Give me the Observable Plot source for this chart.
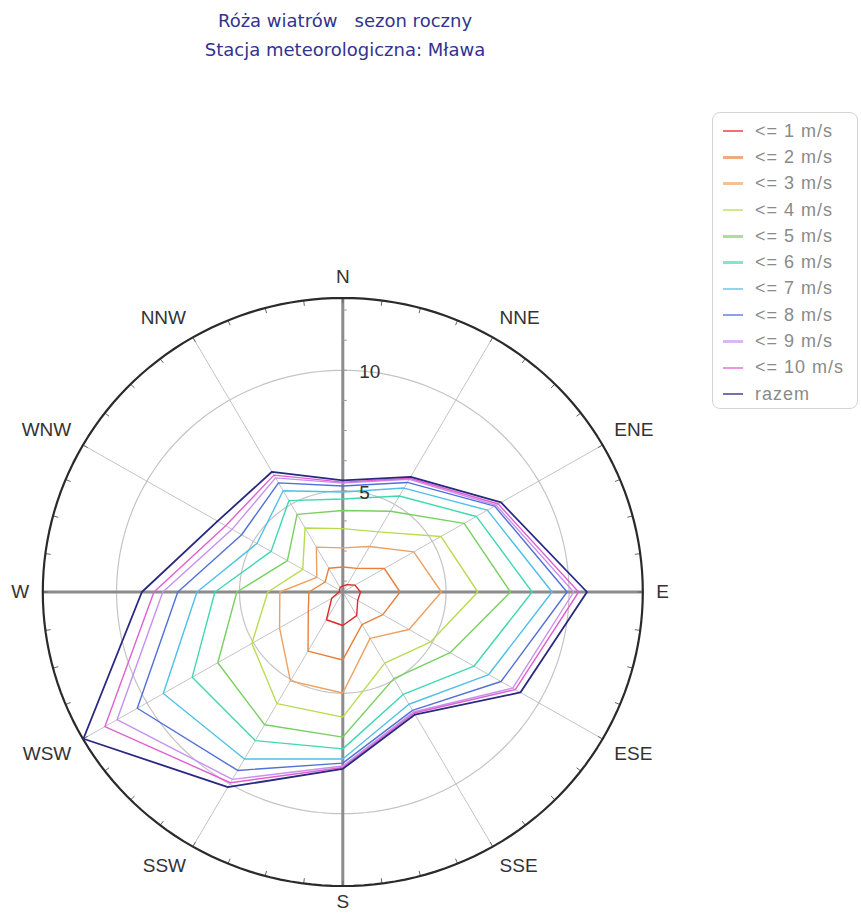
<!DOCTYPE html>
<html><head><meta charset="utf-8">
<script src="https://cdn.jsdelivr.net/npm/d3@7"></script>
<script src="https://cdn.jsdelivr.net/npm/@observablehq/plot@0.6"></script>
<style>
body{margin:0;background:#fff;width:861px;height:913px;position:relative;overflow:hidden;font-family:"Liberation Sans",Arial,sans-serif}
#title{position:absolute;left:0;top:7px;width:690px;text-align:center;font-family:"DejaVu Sans",sans-serif;font-size:18px;color:#33338f;line-height:28.5px;white-space:pre}
#chart{position:absolute;left:0;top:0}
#legend{position:absolute;left:712px;top:112px;width:146px;height:297px;border:1px solid #d4d4d4;border-radius:8px;box-sizing:border-box;padding-top:5px}
.item{height:26.3px;display:flex;align-items:center;font-size:18px;color:#8a8a8a;letter-spacing:1px}
.sw{width:20px;height:2.5px;margin-left:10px;margin-right:12px;opacity:0.65}
</style></head><body>
<div id="title">Róża wiatrów   sezon roczny
Stacja meteorologiczna: Mława</div>
<div id="chart"></div>
<div id="legend"></div>
<script>
// ---- data ----
const directions = ["N","NNE","ENE","E","ESE","SSE","S","SSW","WSW","W","WNW","NNW"];
const angles = [0,30,60,90,120,150,180,210,240,270,300,330];
const seriesNames = ["<= 1 m/s","<= 2 m/s","<= 3 m/s","<= 4 m/s","<= 5 m/s","<= 6 m/s","<= 7 m/s","<= 8 m/s","<= 9 m/s","<= 10 m/s","razem"];
const seriesColors = ["#e02828","#e8803c","#eda060","#b8dc50","#78d060","#40d8b0","#50c0e8","#5070d8","#c890f0","#e060d0","#282880"];
const v1  = [1.05,1.15,1.37,1.52,1.50,1.93,2.19,2.13,1.32,0.95,0.95,1.02];
const v2  = [1.84,1.93,2.75,3.13,2.68,2.36,3.62,3.63,2.42,2.18,1.63,1.94];
const v3  = [2.63,2.98,4.13,4.81,3.91,3.02,4.99,5.06,3.77,3.36,2.02,2.95];
const v4  = [3.43,3.68,5.41,6.29,4.93,4.21,5.99,6.15,5.07,3.85,2.68,3.87];
const v5  = [4.18,4.67,6.50,7.62,5.84,4.95,6.82,7.16,6.67,5.11,3.40,4.52];
const v6  = [4.66,5.40,7.07,8.50,6.96,5.71,7.31,7.92,7.87,6.00,4.17,5.18];
const v7  = [4.95,5.78,7.59,9.31,7.65,6.18,7.73,8.80,9.23,6.73,4.83,5.65];
const v8  = [5.20,6.05,7.93,9.92,8.23,6.47,7.90,9.35,10.45,7.51,5.55,6.03];
const v9  = [5.32,6.20,8.00,10.19,8.78,6.55,8.02,9.78,11.40,8.12,6.00,6.27];
const v10 = [5.36,6.25,8.10,10.39,8.90,6.60,8.08,9.94,11.97,8.48,6.30,6.40];
const total = [5.43,6.32,8.23,10.73,9.14,6.67,8.14,10.15,12.98,8.97,6.68,6.56];
const seriesValues = [v1,v2,v3,v4,v5,v6,v7,v8,v9,v10,total];
const ringValues = [5,10];
const ringLabels = ["5","10"];
const radialMin = 0.8, radialMax = 13.0, radialTickStep = 1.25;

// ---- geometry ----
const cx = 342.3, cy = 591.5, Rx = 300, Ry = 294;
const U = radialMax - radialMin;
const rad = a => a * Math.PI / 180;
const X = (v, a) => (v - radialMin) * Math.sin(rad(a));
const Y = (v, a) => (v - radialMin) * Math.cos(rad(a));

const circlePts = (v, key) => d3.range(0, 360, 2).map(a => ({x: X(v, a), y: Y(v, a), key}));
const rings = ringValues.flatMap(v => circlePts(v, v));
const outer = circlePts(radialMax, "outer");
const spokes = d3.range(0, 360, 30).filter(a => a % 90 !== 0).map(a => ({x2: X(radialMax, a), y2: Y(radialMax, a)}));
const axes = [0, 90, 180, 270].map(a => ({x2: X(radialMax, a), y2: Y(radialMax, a)}));
const outerTicks = d3.range(0, 360, 7.5).map(a => ({x1: X(radialMax, a), y1: Y(radialMax, a), x2: X(radialMax - 0.22, a), y2: Y(radialMax - 0.22, a)}));
const radialTicks = d3.range(radialTickStep, radialMax - 0.3, radialTickStep).map(v => ({y: v - radialMin}));

const lab = directions.map((d, i) => ({name: d, a: angles[i], x: X(radialMin + 12.75, angles[i]), y: Y(radialMin + 12.75, angles[i])}));
const grp = (f) => lab.filter(f);

const polyMarks = seriesValues.map((vals, si) =>
  Plot.line(vals.map((v, i) => ({x: X(v, angles[i]), y: Y(v, angles[i])})), {
    x: "x", y: "y", curve: "linear-closed", stroke: seriesColors[si],
    strokeWidth: si === 10 ? 1.8 : 1.4
  })
);

const textOpts = {x: "x", y: "y", text: "name", fontSize: 19, fill: "#333", fontFamily: "Liberation Sans, Arial, sans-serif"};
const chart = Plot.plot({
  width: 861, height: 913, margin: 0,
  style: {background: "transparent", overflow: "visible"},
  x: {domain: [-U, U], range: [cx - Rx, cx + Rx], axis: null},
  y: {domain: [-U, U], range: [cy + Ry, cy - Ry], axis: null},
  marks: [
    Plot.link(spokes, {x1: 0, y1: 0, x2: "x2", y2: "y2", stroke: "#c4c4c4", strokeWidth: 1}),
    Plot.line(rings, {x: "x", y: "y", z: "key", curve: "linear-closed", stroke: "#c4c4c4", strokeWidth: 1.2}),
    Plot.link(axes, {x1: 0, y1: 0, x2: "x2", y2: "y2", stroke: "#8c8c8c", strokeWidth: 3}),
    Plot.link(outerTicks, {x1: "x1", y1: "y1", x2: "x2", y2: "y2", stroke: "#666", strokeWidth: 1}),
    Plot.link(radialTicks, {x1: 0, x2: 0.16, y1: "y", y2: "y", stroke: "#999", strokeWidth: 1}),
    Plot.line(outer, {x: "x", y: "y", curve: "linear-closed", stroke: "#2a2a2a", strokeWidth: 2.2}),
    ...polyMarks,
    Plot.text(ringValues.map((v, i) => ({y: v - radialMin, t: ringLabels[i]})), {x: 0, y: "y", text: "t", dx: 16.5, dy: 2, textAnchor: "start", fontSize: 19, fill: "#333", fontFamily: "Liberation Sans, Arial, sans-serif"}),
    Plot.text(grp(d => d.a === 0), {...textOpts, textAnchor: "middle", dy: -8}),
    Plot.text(grp(d => d.a === 180), {...textOpts, textAnchor: "middle", dy: 3}),
    Plot.text(grp(d => d.a === 90), {...textOpts, textAnchor: "start"}),
    Plot.text(grp(d => d.a === 270), {...textOpts, textAnchor: "end"}),
    Plot.text(grp(d => d.a > 0 && d.a < 90), {...textOpts, textAnchor: "start", dy: -8}),
    Plot.text(grp(d => d.a > 90 && d.a < 180), {...textOpts, textAnchor: "start", dy: 8}),
    Plot.text(grp(d => d.a > 180 && d.a < 270), {...textOpts, textAnchor: "end", dy: 8}),
    Plot.text(grp(d => d.a > 270), {...textOpts, textAnchor: "end", dy: -8})
  ]
});
document.getElementById("chart").appendChild(chart);

const legend = document.getElementById("legend");
seriesNames.forEach((n, i) => {
  const it = document.createElement("div"); it.className = "item";
  const sw = document.createElement("span"); sw.className = "sw"; sw.style.background = seriesColors[i];
  const tx = document.createElement("span"); tx.textContent = n;
  it.appendChild(sw); it.appendChild(tx); legend.appendChild(it);
});
</script>
</body></html>
